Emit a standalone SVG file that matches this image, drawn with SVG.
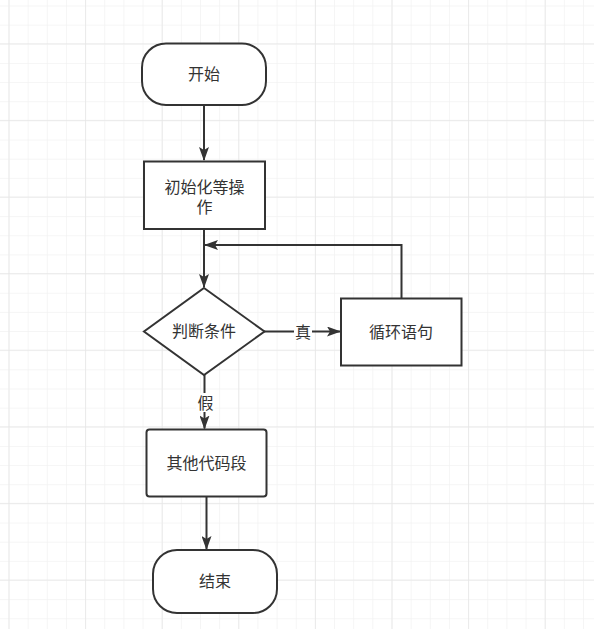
<svg xmlns="http://www.w3.org/2000/svg" width="594" height="629" viewBox="0 0 594 629">
<style>
.node{fill:#ffffff;stroke:#333333;stroke-width:2}
.edge{fill:none;stroke:#333333;stroke-width:2}
.t{font-family:"Liberation Sans","Noto Sans CJK SC",sans-serif;font-size:16px;fill:#333333;text-anchor:middle;dominant-baseline:central}
.lbl{font-family:"Liberation Sans","Noto Sans CJK SC",sans-serif;font-size:16px;fill:#333333;text-anchor:middle;dominant-baseline:central}
</style>
<defs>
<pattern id="minor" x="8.5" y="5.5" width="19.15" height="19.15" patternUnits="userSpaceOnUse">
<path d="M0 0H19.15M0 0V19.15" fill="none" stroke="#f2f2f2" stroke-width="1.5"/>
</pattern>
<pattern id="major" x="8.5" y="43.3" width="76.6" height="76.6" patternUnits="userSpaceOnUse">
<path d="M0 0H76.6M0 0V76.6" fill="none" stroke="#e6e6e6" stroke-width="1.5"/>
</pattern>
<marker id="arr" viewBox="0 0 14 10" refX="13" refY="5" markerWidth="14" markerHeight="10" markerUnits="userSpaceOnUse" orient="auto">
<path d="M0 0L14 5L0 10L3 5Z" fill="#333333"/>
</marker>
</defs>
<rect width="594" height="629" fill="#ffffff"/>
<rect width="594" height="629" fill="url(#minor)"/>
<rect width="594" height="629" fill="url(#major)"/>
<g id="connectors">
<path class="edge" d="M204 105V160" marker-end="url(#arr)"/>
<path class="edge" d="M204 229V287" marker-end="url(#arr)"/>
<path class="edge" d="M401.5 298V245H205" marker-end="url(#arr)"/>
<path class="edge" d="M264 331.5H340" marker-end="url(#arr)"/>
<path class="edge" d="M204.5 375V428.5" marker-end="url(#arr)"/>
<path class="edge" d="M206.5 497V549" marker-end="url(#arr)"/>
<rect x="294" y="322" width="18" height="19" fill="#ffffff"/>
<text class="lbl" x="303" y="332">真</text>
<rect x="196" y="393" width="19" height="19" fill="#ffffff"/>
<text class="lbl" x="205.5" y="403">假</text>
</g>
<g id="start">
<rect class="node" x="142" y="43.5" width="124" height="61.5" rx="24" ry="24"/>
<text class="t" x="204" y="74">开始</text>
</g>
<g id="init">
<rect class="node" x="144" y="161.5" width="121" height="67.5"/>
<text class="t" x="204.5" y="187">初始化等操</text>
<text class="t" x="204.5" y="207">作</text>
</g>
<g id="cond">
<path class="node" d="M204 288L264.5 331.5L204 375L144 331.5Z"/>
<text class="t" x="204" y="331.5">判断条件</text>
</g>
<g id="loop">
<rect class="node" x="341" y="298.5" width="120.5" height="67"/>
<text class="t" x="401" y="332">循环语句</text>
</g>
<g id="other">
<rect class="node" x="146.5" y="429.5" width="120" height="67" rx="3" ry="3"/>
<text class="t" x="206.5" y="463">其他代码段</text>
</g>
<g id="end">
<rect class="node" x="153" y="550" width="124" height="63" rx="24" ry="24"/>
<text class="t" x="215" y="581.5">结束</text>
</g>
</svg>
